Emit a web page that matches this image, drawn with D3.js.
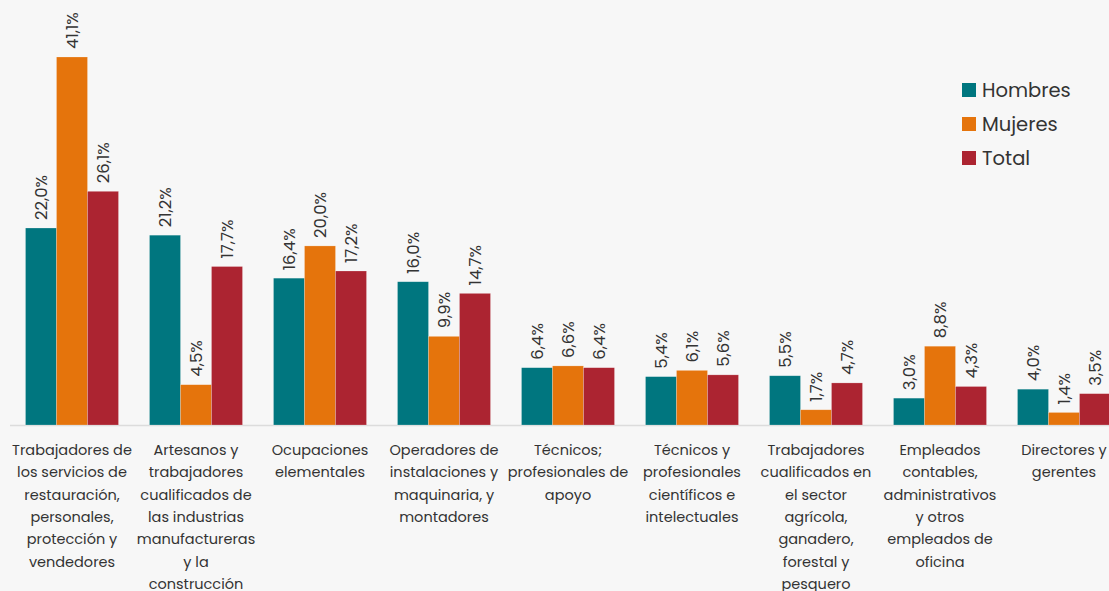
<!DOCTYPE html>
<html>
<head>
<meta charset="utf-8">
<script src="https://cdn.jsdelivr.net/npm/d3@7"></script>
<style>
  html, body { margin: 0; padding: 0; background: #f7f7f7; }
  svg { display: block; font-family: Poppins, "Open Sans", "Noto Sans", sans-serif; }
</style>
</head>
<body>
<svg id="chart" width="1109" height="591"></svg>
<script>
// Occupation groups (each entry is the label split into lines)
const categories = [
  ["Trabajadores de", "los servicios de", "restauración,", "personales,", "protección y", "vendedores"],
  ["Artesanos y", "trabajadores", "cualificados de", "las industrias", "manufactureras", "y la", "construcción"],
  ["Ocupaciones", "elementales"],
  ["Operadores de", "instalaciones y", "maquinaria, y", "montadores"],
  ["Técnicos;", "profesionales de", "apoyo"],
  ["Técnicos y", "profesionales", "científicos e", "intelectuales"],
  ["Trabajadores", "cualificados en", "el sector", "agrícola,", "ganadero,", "forestal y", "pesquero"],
  ["Empleados", "contables,", "administrativos", "y otros", "empleados de", "oficina"],
  ["Directores y", "gerentes"]
];
const seriesNames = ["Hombres", "Mujeres", "Total"];
const hombres = [22.0, 21.2, 16.4, 16.0, 6.4, 5.4, 5.5, 3.0, 4.0];
const mujeres = [41.1, 4.5, 20.0, 9.9, 6.6, 6.1, 1.7, 8.8, 1.4];
const total   = [26.1, 17.7, 17.2, 14.7, 6.4, 5.6, 4.7, 4.3, 3.5];
const colors = ["#00767f", "#e5740c", "#ac2431"];

const seriesValues = [hombres, mujeres, total];
const svg = d3.select("#chart");

const baseY = 425;
const x0 = d3.scaleBand()
  .domain(d3.range(categories.length))
  .range([10, 1126])
  .paddingInner(0.25)
  .paddingOuter(0.125);
const x1 = d3.scaleBand()
  .domain(d3.range(seriesNames.length))
  .range([0, x0.bandwidth()]);
const y = d3.scaleLinear().domain([0, 41.1]).range([baseY, 57]);

const fmt = v => d3.format(".1f")(v).replace(".", ",") + "%";

// Baseline
svg.append("line")
  .attr("x1", 10).attr("x2", 1109)
  .attr("y1", baseY + 0.5).attr("y2", baseY + 0.5)
  .attr("stroke", "#dcdcdc").attr("stroke-width", 1.5);

const groups = svg.selectAll("g.group")
  .data(categories.map((c, i) => i))
  .join("g")
  .attr("class", "group")
  .attr("transform", i => `translate(${x0(i)},0)`);

groups.selectAll("rect")
  .data(i => seriesValues.map((vals, s) => ({ s, v: vals[i] })))
  .join("rect")
  .attr("x", d => x1(d.s))
  .attr("y", d => y(d.v))
  .attr("width", x1.bandwidth())
  .attr("height", d => baseY - y(d.v))
  .attr("fill", d => colors[d.s])
  .attr("stroke", "rgba(255,255,255,0.35)")
  .attr("stroke-width", 0.6);

// Value labels, rotated
groups.selectAll("text.val")
  .data(i => seriesValues.map((vals, s) => ({ s, v: vals[i] })))
  .join("text")
  .attr("class", "val")
  .attr("transform", d => `translate(${x1(d.s) + x1.bandwidth() / 2 + 6},${y(d.v) - 8}) rotate(-90)`)
  .attr("font-size", 16.5)
  .attr("fill", "#333")
  .text(d => fmt(d.v));

// Category labels
const xAxis = svg.append("g");
categories.forEach((lines, i) => {
  const t = xAxis.append("text")
    .attr("x", x0(i) + x0.bandwidth() / 2)
    .attr("y", 455)
    .attr("text-anchor", "middle")
    .attr("font-size", 14.5)
    .attr("fill", "#333");
  lines.forEach((ln, k) => {
    t.append("tspan")
      .attr("x", x0(i) + x0.bandwidth() / 2)
      .attr("dy", k === 0 ? 0 : 22.3)
      .text(ln);
  });
});

// Legend
const legend = svg.append("g").attr("transform", "translate(962,83)");
seriesNames.forEach((name, s) => {
  const row = legend.append("g").attr("transform", `translate(0,${s * 34})`);
  row.append("rect").attr("width", 14).attr("height", 14).attr("fill", colors[s]);
  row.append("text").attr("x", 20).attr("y", 14).attr("font-size", 19.5)
    .attr("fill", "#333").text(name);
});
</script>
</body>
</html>
